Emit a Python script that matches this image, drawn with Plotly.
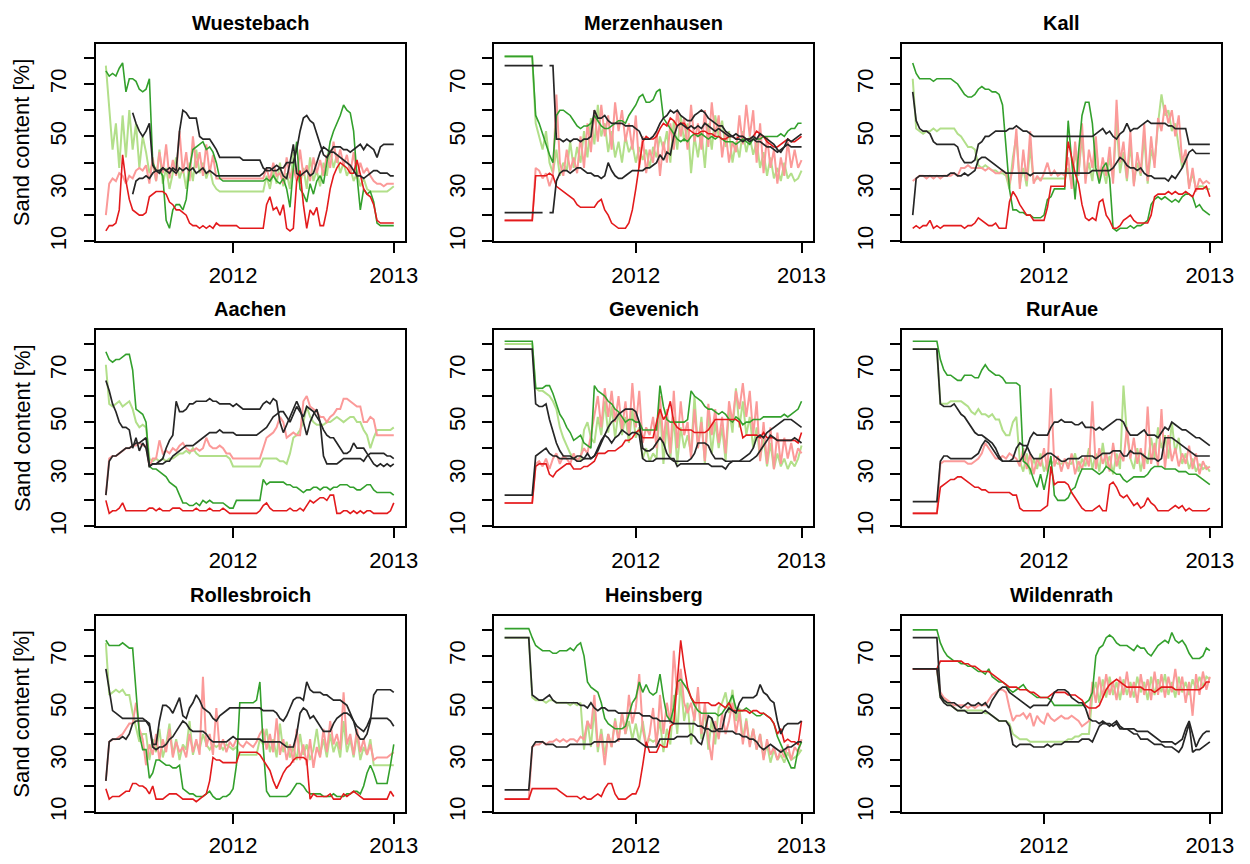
import plotly.graph_objects as go

# ---------------- time grid (decimal years, ~weekly) ----------------
T0 = 2011.2083
STEP = 1 / 48
N = 87
t_grid = [T0 + i * STEP for i in range(N)]

x_ticks = [2012, 2013]
x_ticktext = ["2012", "2013"]
y_ticks = [10, 20, 30, 40, 50, 60, 70, 80]
y_ticktext = ["10", "", "30", "", "50", "", "70", ""]

station_names = ["Wuestebach", "Merzenhausen", "Kall", "Aachen", "Gevenich",
                 "RurAue", "Rollesbroich", "Heinsberg", "Wildenrath"]

# ---------------- Wuestebach ----------------
wue_lg = [77, 60, 45, 55, 38, 58, 42, 60, 45, 55, 38, 50,
          44, 36, 40, 33, 45, 32, 38, 30, 36, 42, 34, 38,
          30, 40, 33, 45, 36, 40, 34, 38, 32, 30, 29, 29,
          29, 29, 29, 29, 29, 29, 29, 29, 29, 29, 29, 29,
          35, 30, 37, 32, 40, 31, 36, 30, 44, 35, 32, 38,
          30, 42, 33, 37, 31, 40, 35, 45, 38, 43, 36, 40,
          35, 38, 33, 36, 31, 34, 30, 29, 29, 29, 29, 29,
          29, 30, 31]
wue_lr = [20, 32, 34, 33, 36, 35, 32, 35, 34, 37, 38, 37,
          39, 32, 42, 33, 44, 36, 47, 34, 41, 35, 52, 36,
          44, 33, 50, 38, 44, 35, 47, 36, 43, 34, 34, 34,
          34, 34, 34, 34, 34, 34, 34, 34, 34, 34, 34, 34,
          38, 33, 40, 35, 36, 32, 42, 34, 38, 33, 45, 35,
          39, 33, 42, 36, 41, 35, 43, 38, 48, 40, 45, 39,
          43, 36, 44, 34, 40, 36, 38, 35, 33, 32, 32, 31,
          32, 32, 32]
wue_dg = [75, 73, 74, 73, 76, 78, 67, 72, 72, 71, 68, 67,
          68, 72, 40, 37, 37, 35, 18, 15, 22, 24, 24, 22,
          26, 38, 45, 46, 47, 48, 45, 46, 44, 40, 34, 33,
          33, 33, 33, 33, 33, 33, 33, 33, 33, 33, 33, 33,
          34, 33, 35, 33, 32, 34, 30, 23, 38, 48, 30, 28,
          25, 32, 28, 33, 35, 32, 40, 48, 52, 55, 58, 62,
          60, 59, 52, 35, 22, 30, 28, 29, 25, 17, 16, 16,
          16, 16, 16]
wue_dr = [14, 16, 16, 17, 22, 43, 33, 26, 22, 21, 20, 20,
          21, 27, 28, 29, 29, 29, 28, 25, 24, 22, 22, 21,
          20, 17, 16, 16, 15, 16, 15, 16, 15, 17, 16, 16,
          16, 16, 16, 16, 15, 15, 15, 15, 15, 15, 15, 15,
          24, 27, 22, 23, 20, 24, 15, 14, 15, 33, 37, 24,
          15, 22, 20, 23, 16, 16, 22, 30, 35, 38, 40, 39,
          38, 36, 36, 41, 36, 30, 28, 27, 24, 18, 17, 17,
          17, 17, 17]
wue_k1 = [None, None, None, None, None, None, None, None, 59, 55, 52, 50,
          52, 55, 39, 37, 37, 38, 37, 36, 38, 37, 52, 60,
          59, 57, 57, 57, 50, 49, 49, 49, 47, 45, 42, 42,
          42, 42, 42, 42, 42, 41, 41, 41, 41, 41, 41, 38,
          37, 37, 38, 39, 38, 38, 40, 40, 40, 45, 52, 57,
          58, 56, 55, 51, 47, 43, 42, 44, 46, 46, 46, 45,
          45, 44, 45, 46, 47, 45, 47, 46, 45, 42, 46, 47,
          47, 47, 47]
wue_k2 = [None, None, None, None, None, None, None, None, 28, 33, 34, 34,
          35, 34, 36, 37, 36, 38, 37, 38, 37, 36, 38, 37,
          38, 37, 38, 36, 37, 38, 36, 37, 36, 35, 35, 35,
          35, 35, 35, 35, 35, 35, 35, 35, 35, 35, 35, 36,
          38, 38, 37, 37, 38, 35, 34, 40, 47, 36, 35, 36,
          37, 35, 36, 40, 44, 46, 45, 44, 44, 43, 42, 41,
          40, 39, 37, 35, 35, 34, 35, 36, 37, 37, 36, 36,
          36, 35, 35]

# ---------------- Merzenhausen ----------------
mer_lg = [80.5, 80.5, 80.5, 80.5, 80.5, 80.5, 80.5, 80.5, 80.5, 55, 50, 45,
          52, 40, 36, 45, 35, 40, 37, 48, 38, 46, 40, 52,
          42, 57, 47, 62, 50, 55, 44, 52, 42, 48, 40, 50,
          44, 47, 40, 46, 41, 45, 38, 46, 42, 50, 45, 52,
          40, 56, 45, 58, 48, 55, 36, 50, 42, 52, 38, 55,
          45, 58, 50, 56, 46, 52, 40, 48, 42, 52, 44, 50,
          43, 48, 38, 44, 35, 42, 34, 38, 33, 40, 34, 36,
          33, 34, 37]
mer_lr = [18, 18, 18, 18, 18, 18, 18, 18, 18, 38, 37, 34,
          36, 31, 35, 66, 40, 35, 45, 37, 42, 36, 50, 38,
          55, 44, 60, 48, 62, 50, 58, 45, 63, 52, 60, 48,
          55, 45, 58, 38, 50, 36, 45, 40, 52, 35, 48, 40,
          55, 45, 60, 50, 57, 45, 62, 48, 55, 45, 60, 46,
          63, 50, 58, 42, 52, 40, 48, 44, 58, 47, 62, 50,
          60, 40, 55, 36, 50, 38, 45, 32, 42, 35, 48, 38,
          45, 38, 41]
mer_dg = [80.5, 80.5, 80.5, 80.5, 80.5, 80.5, 80.5, 80.5, 80.5, 58, 55, 51,
          47, 43, 40, 58, 60, 60, 59, 58, 56, 54, 53, 54,
          54, 55, 58, 56, 54, 53, 53, 54, 55, 56, 56, 55,
          58, 60, 62, 65, 66, 63, 63, 64, 67, 68, 57, 55,
          53, 51, 49, 48, 49, 48, 50, 51, 50, 51, 50, 49,
          50, 49, 50, 49, 48, 48, 48, 47, 48, 49, 48, 47,
          49, 49, 49, 50, 50, 50, 50, 50, 51, 50, 52, 53,
          53, 55, 55]
mer_dr = [18, 18, 18, 18, 18, 18, 18, 18, 18, 35, 35, 35,
          35, 36, 35, 31, 30, 29, 28, 27, 26, 24, 23, 23,
          23, 23, 23, 25, 26, 22, 20, 17, 16, 15, 15, 15,
          17, 22, 30, 40, 48, 50, 49, 49, 50, 53, 55, 54,
          57, 56, 54, 55, 55, 53, 52, 51, 51, 52, 52, 51,
          51, 50, 50, 49, 49, 50, 50, 49, 50, 50, 49, 49,
          50, 52, 51, 50, 48, 47, 46, 46, 47, 48, 49, 48,
          48, 49, 50]
mer_k1 = [77, 77, 77, 77, 77, 77, 77, 77, 77, 77, 77, 77,
          None, 77, 77, 49, 49, 48, 49, 48, 49, 49, 48, 49,
          49, 50, 60, 57, 57, 58, 56, 55, 55, 55, 55, 54,
          54, 54, 53, 52, 49, 49, 49, 50, 52, 55, 57, 58,
          60, 59, 60, 58, 57, 56, 56, 58, 59, 60, 59, 57,
          56, 55, 54, 54, 52, 51, 50, 51, 50, 50, 49, 49,
          50, 49, 51, 50, 49, 48, 47, 45, 44, 46, 49, 48,
          49, 50, 51]
mer_k2 = [21, 21, 21, 21, 21, 21, 21, 21, 21, 21, 21, 21,
          None, 21, 21, 33, 36, 37, 37, 36, 37, 38, 38, 37,
          36, 36, 35, 35, 34, 35, 40, 37, 35, 34, 34, 35,
          36, 37, 37, 37, 37, 38, 38, 39, 40, 43, 41, 44,
          43, 50, 54, 55, 54, 53, 54, 53, 54, 53, 55, 54,
          53, 52, 53, 52, 51, 50, 50, 49, 49, 48, 49, 48,
          49, 48, 48, 47, 46, 46, 45, 44, 45, 46, 47, 46,
          46, 46, 46]

# ---------------- Kall ----------------
kal_lg = [72, 53, 52, 51, 52, 52, 53, 52, 53, 53, 53, 53,
          53, 51, 50, 48, 46, 46, 45, 39, 38, 39, 38, 37,
          37, 36, 36, 35, 30, 42, 50, 32, 38, 31, 46, 33,
          34, 34, 34, 34, 34, 34, 34, 34, 34, 38, 32, 44,
          36, 50, 34, 40, 33, 46, 35, 38, 32, 42, 34, 56,
          36, 44, 33, 47, 32, 40, 35, 50, 32, 45, 40, 55,
          66, 58, 60, 52, 55, 46, 38, 42, 31, 36, 30, 31,
          31, 30, 30]
kal_lr = [33, 34, 35, 35, 34, 35, 34, 35, 34, 35, 35, 35,
          36, 35, 38, 38, 39, 38, 38, 38, 38, 37, 38, 37,
          36, 36, 37, 36, 32, 38, 53, 30, 45, 33, 52, 32,
          35, 33, 36, 40, 35, 37, 35, 36, 35, 42, 30, 48,
          35, 55, 32, 45, 38, 50, 33, 42, 35, 46, 32, 64,
          40, 48, 34, 52, 31, 44, 36, 55, 33, 50, 38, 57,
          52, 62, 55, 60, 50, 58, 40, 45, 30, 38, 29, 34,
          32, 33, 32]
kal_dg = [78, 74, 72, 72, 72, 72, 71, 72, 72, 72, 72, 72,
          71, 70, 68, 66, 65, 65, 66, 68, 69, 68, 68, 67,
          67, 66, 62, 45, 30, 22, 22, 21, 21, 20, 20, 19,
          19, 19, 20, 26, 27, 30, 30, 30, 30, 56, 40, 26,
          44, 58, 63, 63, 55, 38, 32, 38, 40, 34, 15, 14,
          15, 15, 15, 16, 15, 16, 16, 17, 18, 24, 26, 27,
          26, 27, 26, 25, 26, 25, 27, 28, 28, 27, 23, 24,
          22, 21, 20]
kal_dr = [15, 16, 15, 16, 16, 18, 15, 16, 15, 16, 16, 16,
          16, 16, 16, 15, 16, 16, 17, 19, 18, 17, 16, 16,
          17, 15, 15, 15, 25, 29, 27, 24, 22, 20, 20, 18,
          18, 18, 18, 23, 31, 31, 31, 31, 31, 48, 42, 36,
          32, 24, 19, 18, 19, 18, 25, 26, 20, 18, 15, 15,
          16, 18, 19, 20, 18, 17, 17, 17, 17, 20, 27, 28,
          28, 28, 29, 28, 29, 28, 28, 29, 28, 27, 30, 30,
          30, 31, 27]
kal_k1 = [67, 56, 53, 52, 52, 51, 48, 47, 47, 47, 47, 47,
          47, 46, 42, 40, 40, 40, 41, 47, 48, 50, 50, 51,
          52, 52, 52, 52, 53, 53, 54, 53, 52, 52, 51, 50,
          50, 50, 50, 50, 50, 50, 50, 50, 50, 50, 50, 50,
          50, 50, 50, 50, 50, 51, 52, 53, 51, 52, 50, 49,
          51, 52, 55, 52, 53, 53, 54, 55, 56, 55, 55, 55,
          55, 55, 54, 54, 53, 53, 53, 53, 47, 47, 47, 47,
          47, 47, 47]
kal_k2 = [20, 34, 35, 35, 35, 35, 35, 35, 35, 35, 35, 36,
          36, 35, 35, 36, 35, 36, 37, 41, 42, 42, 41, 40,
          39, 38, 37, 36, 36, 36, 36, 36, 36, 36, 35, 36,
          36, 36, 36, 36, 36, 36, 36, 36, 36, 36, 36, 36,
          36, 36, 36, 36, 37, 37, 37, 37, 37, 37, 38, 40,
          42, 41, 39, 38, 38, 37, 38, 36, 35, 35, 34, 34,
          34, 34, 33, 35, 34, 36, 38, 41, 44, 45, 43.5, 43.5,
          43.5, 43.5, 43.5]

# ---------------- Aachen ----------------
aac_lg = [72, 57, 56, 57, 58, 56, 57, 58, 55, 50, 48, 49,
          48, 36, 35, 36, 35, 36, 35, 36, 36, 37, 38, 38,
          39, 38, 40, 38, 37, 37, 37, 37, 37, 37, 37, 37,
          37, 36, 33, 33, 33, 33, 33, 33, 33, 33, 33, 36,
          36, 36, 36, 36, 35, 35, 34, 38, 44, 45, 47, 50,
          56, 52, 50, 49, 49, 49, 50, 50, 51, 52, 51, 50,
          51, 52, 52, 50, 50, 47, 45, 40, 44, 47, 47, 47,
          47, 47, 48]
aac_lr = [22, 36, 37, 37, 38, 39, 40, 40, 41, 41, 42, 41,
          41, 33, 36, 36, 43, 38, 39, 38, 40, 39, 41, 42,
          40, 39, 39, 40, 39, 40, 44, 41, 40, 40, 41, 40,
          38, 38, 36, 36, 36, 36, 36, 36, 36, 36, 36, 40,
          44, 45, 46, 48, 52, 50, 44, 45, 46, 45, 45, 58,
          60, 56, 55, 54, 52, 52, 50, 52, 53, 55, 55, 59,
          59, 58, 57, 56, 56, 50, 50, 52, 51, 45, 45, 45,
          45, 45, 45]
aac_dg = [77, 74, 73, 74, 74, 75, 76, 76, 70, 55, 54, 53,
          50, 33, 32, 32, 31, 30, 29, 27, 26, 25, 22, 19,
          19, 18, 18, 19, 18, 20, 19, 20, 19, 19, 19, 19,
          18, 17, 17, 20, 20, 20, 20, 20, 20, 20, 20, 28,
          26, 27, 27, 27, 27, 27, 26, 26, 25, 25, 24, 23,
          24, 24, 25, 25, 24, 25, 25, 24, 25, 25, 26, 26,
          26, 25, 25, 24, 24, 25, 26, 26, 24, 23, 23, 23,
          23, 23, 22]
aac_dr = [20, 15, 16, 16, 17, 19, 16, 16, 16, 16, 16, 16,
          16, 17, 17, 16, 17, 16, 16, 16, 17, 17, 17, 16,
          16, 16, 16, 17, 16, 16, 16, 17, 16, 16, 16, 17,
          16, 15, 15, 15, 15, 15, 15, 15, 15, 15, 16, 18,
          19, 17, 16, 16, 16, 16, 16, 17, 16, 16, 17, 16,
          18, 20, 19, 20, 21, 21, 20, 22, 22, 15, 15, 16,
          16, 15, 16, 15, 16, 15, 16, 16, 15, 15, 15, 15,
          15, 16, 19]
aac_k1 = [66, 62, 57, 54, 50, 48, 48, 47, 40, 44, 39, 42,
          40, 33, 34, 34, 35, 36, 40, 43, 45, 58, 54, 54,
          55, 57, 57, 58, 58, 58, 58, 59, 58, 58, 57, 57,
          57, 57, 56, 57, 56, 55, 55, 55, 55, 55, 55, 57,
          58, 57, 59, 58, 50, 46, 49, 52, 55, 58, 55, 50,
          45, 50, 53, 55, 50, 37, 34, 34, 34, 34, 35, 36,
          36, 36, 36, 36, 36, 35, 37, 38, 38, 38, 38, 38,
          37, 37, 36]
aac_k2 = [22, 35, 37, 37, 38, 39, 40, 40, 41, 42, 42, 43,
          44, 33, 34, 34, 34, 34, 35, 35, 37, 38, 39, 40,
          41, 41, 41, 42, 43, 44, 45, 46, 46, 46, 47, 46,
          46, 46, 46, 45, 45, 45, 45, 45, 45, 45, 46, 47,
          48, 50, 52, 53, 54, 54, 52, 50, 53, 56, 54, 52,
          56, 55, 54, 52, 50, 47, 45, 44, 44, 42, 40, 38,
          38, 39, 42, 40, 40, 40, 38, 36, 34, 33, 34, 33,
          34, 33, 34]

# ---------------- Gevenich ----------------
gev_lg = [80, 80, 80, 80, 80, 80, 80, 80, 80, 63, 62, 62,
          61, 60, 58, 55, 48, 44, 41, 38, 36, 36, 35, 47,
          50, 44, 42, 52, 45, 58, 46, 56, 44, 54, 45, 52,
          42, 55, 44, 48, 36, 40, 35, 38, 36, 56, 34, 50,
          36, 52, 34, 48, 40, 45, 38, 60, 40, 52, 34, 54,
          38, 50, 40, 48, 35, 55, 46, 63, 48, 58, 45, 52,
          40, 48, 36, 44, 33, 42, 32, 38, 33, 36, 32, 35,
          33, 36, 41]
gev_lr = [19, 19, 19, 19, 19, 19, 19, 19, 19, 34, 35, 33,
          36, 32, 36, 38, 34, 37, 36, 34, 38, 35, 37, 40,
          38, 45, 52, 60, 48, 63, 52, 62, 50, 60, 47, 58,
          45, 65, 48, 62, 42, 48, 45, 52, 40, 60, 42, 55,
          38, 62, 40, 58, 45, 50, 36, 55, 40, 50, 35, 57,
          45, 55, 42, 52, 38, 58, 50, 62, 55, 65, 52, 62,
          45, 58, 35, 50, 34, 48, 32, 46, 34, 44, 36, 42,
          35, 40, 38]
gev_dg = [81, 81, 81, 81, 81, 81, 81, 81, 81, 63, 63, 63,
          64, 64, 61, 57, 53, 51, 48, 46, 43, 44, 45, 42,
          41, 40, 64, 62, 61, 60, 58, 57, 55, 54, 52, 50,
          51, 51, 50, 50, 47, 47, 47, 47, 47, 64, 56, 51,
          50, 50, 50, 50, 50, 51, 62, 60, 59, 58, 56, 55,
          55, 54, 53, 54, 53, 51, 50, 52, 51, 49, 50, 50,
          51, 51, 51, 52, 52, 52, 52, 52, 52, 53, 52, 53,
          54, 55, 58]
gev_dr = [19, 19, 19, 19, 19, 19, 19, 19, 19, 33, 34, 34,
          34, 30, 29, 31, 32, 33, 34, 34, 32, 32, 32, 33,
          33, 34, 35, 38, 38, 38, 39, 39, 39, 40, 41, 43,
          43, 44, 46, 47, 44, 44, 44, 44, 50, 55, 51, 53,
          58, 50, 48, 47, 47, 47, 47, 46, 46, 46, 46, 47,
          49, 51, 51, 51, 51, 51, 51, 51, 50, 44, 45, 45,
          45, 45, 44, 46, 44, 44, 44, 43, 43, 43, 43, 43,
          43, 42, 46]
gev_k1 = [78, 78, 78, 78, 78, 78, 78, 78, 78, 57, 56, 56,
          57, 51, 46, 42, 39, 37, 37, 37, 36, 37, 37, 36,
          38, 36, 37, 40, 43, 45, 48, 50, 51, 53, 54, 55,
          55, 55, 54, 50, 40, 39, 39, 40, 42, 44, 42, 38,
          36, 35, 35, 35, 35, 35, 36, 38, 42, 42, 42, 41,
          38, 36, 36, 36, 35, 35, 35, 35, 35, 36, 37, 38,
          40, 44, 45, 44, 46, 47, 48, 49, 50, 51, 51, 51,
          50, 49, 48]
gev_k2 = [22, 22, 22, 22, 22, 22, 22, 22, 22, 37, 38, 39,
          40, 38, 37, 37, 36, 36, 36, 36, 36, 35, 35, 36,
          36, 36, 37, 39, 42, 45, 44, 42, 44, 45, 47, 46,
          45, 46, 46, 45, 36, 35, 35, 35, 36, 36, 36, 36,
          36, 36, 33, 34, 34, 34, 34, 34, 34, 34, 34, 34,
          33, 33, 33, 33, 32, 34, 35, 35, 35, 35, 35, 35,
          36, 37, 39, 41, 43, 45, 44, 43, 43, 43, 43, 43,
          44, 43, 42]

# ---------------- RurAue ----------------
rur_lg = [78, 78, 78, 78, 78, 78, 78, 78, 57, 57, 57, 58,
          58, 58, 58, 57, 56, 54, 53, 55, 53, 53, 52, 53,
          51, 51, 47, 45, 45, 50, 52, 35, 31, 38, 30, 36,
          32, 38, 31, 35, 34, 35, 34, 34, 35, 34, 34, 38,
          31, 36, 33, 40, 32, 38, 31, 42, 33, 37, 30, 38,
          32, 64, 45, 36, 32, 40, 31, 38, 34, 44, 36, 48,
          40, 45, 36, 50, 38, 44, 34, 38, 32, 36, 31, 34,
          32, 33, 31]
rur_lr = [15, 15, 15, 15, 15, 15, 15, 15, 34, 35, 35, 35,
          35, 35, 35, 35, 34, 34, 35, 36, 38, 42, 40, 38,
          36, 36, 37, 36, 38, 37, 36, 33, 40, 32, 38, 30,
          36, 33, 40, 31, 63, 33, 37, 31, 36, 32, 38, 30,
          35, 32, 37, 33, 58, 32, 40, 34, 38, 31, 42, 33,
          38, 35, 48, 36, 44, 34, 40, 32, 56, 34, 42, 33,
          55, 32, 45, 35, 40, 33, 38, 34, 41, 32, 38, 30,
          35, 32, 33]
rur_dg = [81, 81, 81, 81, 81, 81, 81, 81, 74, 70, 68, 68,
          67, 66, 66, 68, 68, 68, 67, 67, 70, 72, 70, 69,
          68, 68, 67, 65, 65, 65, 65, 64, 35, 34, 32, 28,
          25, 30, 24, 30, 37, 22, 20, 20, 20, 21, 24, 25,
          29, 32, 32, 32, 32, 31, 30, 31, 33, 32, 31, 30,
          30, 28, 27, 28, 29, 29, 29, 29, 30, 32, 33, 33,
          33, 32, 32, 32, 32, 31, 31, 31, 30, 30, 30, 29,
          28, 27, 26]
rur_dr = [15, 15, 15, 15, 15, 15, 15, 15, 25, 26, 27, 28,
          28, 29, 29, 28, 27, 26, 25, 25, 24, 24, 23, 23,
          23, 23, 23, 23, 23, 22, 22, 17, 16, 16, 16, 16,
          16, 16, 17, 18, 33, 26, 27, 27, 27, 26, 23, 21,
          19, 17, 16, 16, 16, 17, 18, 16, 16, 26, 27, 25,
          22, 21, 22, 20, 18, 19, 17, 18, 21, 19, 18, 16,
          16, 16, 16, 17, 18, 17, 18, 16, 17, 16, 16, 16,
          16, 16, 17]
rur_k1 = [78, 78, 78, 78, 78, 78, 78, 78, 57, 56, 56, 56,
          57, 55, 53, 52, 50, 48, 46, 45, 45, 44, 43, 42,
          40, 37, 35, 35, 35, 35, 35, 35, 37, 40, 44, 46,
          45, 45, 45, 45, 48, 50, 50, 51, 50, 50, 50, 49,
          49, 50, 48, 48, 48, 47, 48, 47, 48, 49, 50, 51,
          51, 50, 47, 45, 45, 45, 46, 47, 45, 45, 45, 44,
          46, 48, 47, 50, 49, 48, 47, 47, 46, 45, 44, 44,
          43, 42, 41]
rur_k2 = [19.5, 19.5, 19.5, 19.5, 19.5, 19.5, 19.5, 19.5, 35, 37, 37, 36,
          36, 36, 36, 36, 36, 36, 37, 38, 41, 43, 42, 40,
          38, 36, 35, 35, 35, 36, 40, 42, 41, 41, 38, 36,
          36, 36, 37, 38, 38, 37, 36, 35, 35, 36, 36, 36,
          36, 37, 37, 37, 37, 36, 37, 38, 38, 38, 39, 39,
          39, 37, 37, 39, 38, 38, 38, 37, 36, 36, 36, 35,
          36, 44, 44, 44, 43, 42, 41, 40, 39, 38, 37, 37,
          37, 37, 37]

# ---------------- Rollesbroich ----------------
rol_lg = [75, 55, 56, 57, 56, 57, 55, 55, 48, 42, 37, 40,
          40, 30, 38, 33, 42, 31, 36, 44, 32, 38, 30, 36,
          34, 45, 32, 37, 34, 40, 36, 34, 36, 35, 36, 34,
          36, 35, 34, 35, 32, 32, 32, 32, 32, 32, 38, 36,
          42, 33, 38, 31, 44, 33, 37, 31, 35, 30, 40, 32,
          36, 30, 34, 42, 32, 38, 31, 40, 33, 37, 31, 45,
          33, 38, 31, 40, 30, 35, 32, 38, 28, 28, 28, 28,
          28, 28, 28]
rol_lr = [22, 37, 38, 38, 39, 40, 42, 44, 44, 52, 42, 38,
          28, 36, 32, 40, 30, 38, 33, 42, 31, 37, 33, 35,
          31, 40, 33, 38, 32, 62, 35, 40, 32, 50, 34, 38,
          33, 37, 35, 38, 36, 35, 37, 36, 35, 37, 40, 42,
          34, 40, 33, 46, 32, 38, 30, 36, 29, 42, 30, 36,
          28, 38, 27, 35, 31, 42, 33, 45, 36, 40, 34, 56,
          36, 40, 32, 42, 33, 38, 32, 36, 30, 31, 31, 31,
          31, 32, 33]
rol_dg = [76, 74, 74, 74, 74, 75, 74, 73, 73, 55, 40, 34,
          34, 23, 25, 30, 30, 29, 28, 28, 27, 27, 28, 19,
          18, 17, 17, 16, 16, 16, 17, 18, 16, 15, 15, 16,
          16, 17, 19, 28, 52, 52, 52, 52, 52, 53, 60, 35,
          18, 16, 16, 16, 16, 16, 16, 17, 19, 21, 21, 20,
          18, 17, 17, 17, 17, 16, 16, 16, 17, 16, 16, 16,
          17, 17, 18, 18, 17, 20, 25, 28, 25, 21, 21, 21,
          21, 28, 36]
rol_dr = [19, 15, 16, 16, 16, 17, 18, 18, 21, 21, 20, 20,
          19, 17, 20, 15, 15, 15, 16, 17, 17, 17, 16, 15,
          15, 15, 15, 14, 15, 16, 17, 22, 31, 30, 30, 29,
          29, 29, 29, 29, 33, 33, 33, 33, 33, 33, 32, 30,
          28, 26, 22, 19, 22, 25, 27, 28, 30, 31, 31, 31,
          30, 15, 17, 16, 16, 16, 16, 17, 15, 15, 15, 17,
          16, 17, 18, 17, 16, 15, 15, 15, 15, 15, 15, 15,
          15, 18, 16]
rol_k1 = [65, 57, 49, 48, 47, 46, 46, 46, 46, 46, 46, 46,
          45, 44, 36, 36, 45, 51, 51, 50, 48, 51, 54, 47,
          46, 50, 52, 55, 53, 50, 49, 48, 46, 45, 47, 48,
          49, 50, 50, 50, 50, 50, 50, 50, 50, 50, 50, 49,
          49, 49, 49, 48, 46, 45, 47, 50, 53, 54, 54, 53,
          60, 57, 56, 56, 56, 55, 55, 54, 53, 53, 53, 52,
          51, 48, 45, 40, 38, 38, 40, 45, 55, 57, 57, 57,
          57, 57, 56]
rol_k2 = [22, 37, 38, 38, 38, 39, 38, 40, 44, 45, 45, 45,
          45, 43, 35, 34, 35, 35, 36, 38, 39, 41, 43, 45,
          44, 42, 41, 41, 41, 41, 40, 38, 37, 37, 37, 37,
          37, 38, 39, 38, 38, 38, 38, 38, 38, 38, 38, 37,
          37, 37, 37, 37, 37, 36, 35, 35, 35, 40, 48, 50,
          49, 46, 47, 45, 43, 41, 41, 41, 44, 46, 47, 48,
          48, 47, 45, 43, 42, 41, 43, 46, 46, 46, 46, 46,
          46, 45, 43]

# ---------------- Heinsberg ----------------
hei_lg = [77, 77, 77, 77, 77, 77, 77, 77, 54, 53, 53, 53,
          52, 53, 53, 52, 52, 52, 52, 51, 52, 51, 52, 34,
          45, 35, 50, 33, 42, 32, 40, 35, 46, 38, 48, 40,
          45, 38, 44, 37, 45, 36, 38, 37, 38, 45, 33, 42,
          36, 55, 40, 60, 45, 52, 36, 48, 55, 38, 50, 34,
          46, 36, 50, 52, 56, 48, 57, 45, 50, 38, 46, 36,
          42, 34, 40, 31, 36, 29, 34, 30, 32, 29, 33, 30,
          31, 32, 34]
hei_lr = [15, 15, 15, 15, 15, 15, 15, 15, 35, 36, 36, 37,
          36, 37, 37, 38, 37, 38, 37, 38, 38, 37, 39, 38,
          45, 42, 55, 35, 40, 28, 40, 35, 45, 37, 48, 40,
          55, 44, 50, 63, 42, 35, 40, 50, 35, 55, 40, 52,
          44, 72, 55, 65, 52, 48, 52, 45, 58, 40, 52, 38,
          30, 45, 38, 48, 40, 45, 52, 40, 48, 36, 45, 35,
          42, 34, 40, 30, 38, 32, 35, 30, 34, 31, 36, 30,
          35, 33, 38]
hei_dg = [80.5, 80.5, 80.5, 80.5, 80.5, 80.5, 80.5, 80.5, 77, 74, 73, 72,
          72, 72, 71, 71, 72, 72, 72, 73, 72, 74, 75, 70,
          60, 58, 57, 56, 52, 46, 44, 43, 42, 42, 42, 43,
          48, 52, 54, 60, 56, 59, 56, 55, 56, 63, 54, 47,
          45, 50, 60, 61, 59, 57, 54, 51, 49, 48, 48, 48,
          48, 48, 47, 48, 50, 52, 55, 50, 49, 49, 50, 49,
          48, 47, 47, 48, 47, 46, 44, 39, 36, 33, 30, 27,
          27, 34, 37]
hei_dr = [15, 15, 15, 15, 15, 15, 15, 15, 19, 19, 19, 19,
          19, 19, 19, 19, 18, 17, 16, 16, 16, 16, 15, 16,
          15, 15, 16, 17, 16, 19, 21, 21, 17, 15, 15, 15,
          16, 17, 17, 20, 28, 37, 33, 33, 33, 36, 35, 35,
          43, 44, 60, 76, 66, 58, 54, 52, 52, 52, 52, 52,
          51, 51, 52, 51, 50, 52, 49, 49, 49, 49, 49, 48,
          49, 49, 48, 48, 47, 46, 44, 40, 42, 37, 38, 37,
          37, 36, 45]
hei_k1 = [77, 77, 77, 77, 77, 77, 77, 77, 55, 54, 53, 53,
          54, 55, 53, 52, 52, 52, 52, 52, 52, 52, 51, 51,
          50, 52, 50, 49, 50, 50, 49, 49, 49, 48, 48, 48,
          48, 48, 48, 48, 47, 47, 47, 46, 46, 45, 45, 45,
          45, 44, 44, 44, 44, 44, 44, 44, 43, 43, 42, 42,
          41, 41, 42, 42, 48, 50, 49, 48, 52, 54, 54, 54,
          54, 55, 59, 56, 55, 53, 52, 45, 40, 43, 44, 44,
          44, 44, 45]
hei_k2 = [18.5, 18.5, 18.5, 18.5, 18.5, 18.5, 18.5, 18.5, 35, 37, 37, 37,
          36, 36, 36, 35, 35, 35, 35, 36, 36, 36, 36, 36,
          36, 36, 37, 37, 37, 37, 37, 37, 37, 38, 38, 38,
          38, 38, 38, 37, 36, 35, 35, 35, 35, 38, 38, 38,
          38, 38, 39, 39, 39, 39, 40, 39, 37, 36, 41, 47,
          46, 42, 41, 41, 41, 41, 41, 40, 40, 39, 39, 38,
          38, 37, 35, 34, 35, 36, 35, 34, 33, 34, 35, 35,
          36, 37, 37]

# ---------------- Wildenrath ----------------
wil_lg = [65, 65, 65, 65, 65, 65, 65, 65, 54, 53, 52, 51,
          50, 49, 49, 49, 49, 49, 49, 49, 49, 48, 48, 47,
          46, 45, 45, 45, 44, 40, 39, 38, 38, 38, 37, 37,
          37, 37, 37, 37, 37, 37, 37, 37, 37, 38, 38, 39,
          39, 40, 40, 40, 55, 60, 52, 61, 54, 62, 55, 60,
          53, 61, 55, 60, 54, 62, 56, 60, 53, 62, 55, 61,
          56, 63, 55, 60, 54, 62, 56, 60, 55, 61, 57, 62,
          58, 62, 61]
wil_lr = [65, 65, 65, 65, 65, 65, 65, 65, 56, 54, 53, 52,
          51, 51, 51, 51, 50, 51, 50, 51, 51, 51, 53, 55,
          56, 57, 57, 56, 50, 45, 47, 47, 48, 46, 48, 43,
          47, 45, 44, 48, 46, 45, 46, 47, 46, 46, 47, 46,
          45, 43, 44, 45, 60, 52, 62, 54, 63, 55, 60, 53,
          62, 55, 64, 54, 60, 52, 63, 55, 61, 53, 64, 55,
          63, 54, 62, 56, 65, 55, 62, 52, 60, 47, 63, 55,
          64, 57, 62]
wil_dg = [80, 80, 80, 80, 80, 80, 80, 80, 75, 72, 70, 69,
          68, 68, 67, 67, 66, 66, 65, 64, 64, 63, 65, 62,
          61, 60, 60, 59, 57, 56, 57, 58, 59, 57, 56, 55,
          54, 54, 54, 54, 53, 51, 51, 51, 51, 51, 51, 51,
          51, 51, 52, 53, 56, 70, 73, 74, 77, 78, 77, 75,
          74, 74, 74, 73, 72, 74, 73, 73, 71, 70, 72, 74,
          75, 76, 75, 79, 76, 75, 76, 74, 71, 69, 69, 69,
          70, 73, 72]
wil_dr = [65, 65, 65, 65, 65, 65, 65, 65, 68, 68, 68, 68,
          68, 68, 68, 67, 67, 66, 66, 65, 64, 64, 64, 63,
          62, 61, 60, 59, 58, 58, 58, 57, 57, 57, 56, 56,
          55, 54, 54, 54, 55, 56, 56, 56, 56, 55, 55, 55,
          54, 53, 51, 50, 50, 50, 51, 54, 57, 59, 60, 61,
          60, 59, 58, 58, 58, 58, 58, 57, 57, 57, 56, 57,
          58, 58, 58, 58, 57, 57, 57, 57, 57, 57, 57, 57,
          58, 60, 60]
wil_k1 = [77, 77, 77, 77, 77, 77, 77, 77, 55, 53, 52, 52,
          52, 51, 50, 51, 52, 51, 51, 52, 51, 52, 50, 53,
          55, 57, 58, 58, 56, 55, 54, 53, 52, 51, 50, 51,
          51, 51, 51, 51, 53, 56, 57, 57, 57, 56, 54, 53,
          52, 52, 50, 46, 45, 45, 44, 45, 44, 43, 44, 45,
          43, 42, 42, 42, 42, 41, 41, 41, 41, 40, 39, 38,
          37, 37, 37, 37, 36, 37, 38, 42, 45, 40, 35, 38,
          40, 41, 41]
wil_k2 = [65, 65, 65, 65, 65, 65, 65, 65, 54, 52, 51, 51,
          50, 49, 49, 49, 48, 48, 48, 48, 48, 49, 48, 47,
          46, 45, 45, 45, 43, 36, 35, 36, 36, 36, 36, 35,
          35, 35, 35, 36, 35, 36, 36, 36, 37, 37, 37, 37,
          37, 38, 38, 38, 37, 40, 43, 44, 44, 44, 43, 44,
          42, 42, 42, 41, 40, 40, 38, 38, 38, 37, 36, 36,
          36, 35, 35, 35, 34, 33, 35, 40, 44, 33, 34, 34,
          35, 36, 37]

panel_series = [
    (wue_lg, wue_lr, wue_dg, wue_dr, wue_k1, wue_k2),
    (mer_lg, mer_lr, mer_dg, mer_dr, mer_k1, mer_k2),
    (kal_lg, kal_lr, kal_dg, kal_dr, kal_k1, kal_k2),
    (aac_lg, aac_lr, aac_dg, aac_dr, aac_k1, aac_k2),
    (gev_lg, gev_lr, gev_dg, gev_dr, gev_k1, gev_k2),
    (rur_lg, rur_lr, rur_dg, rur_dr, rur_k1, rur_k2),
    (rol_lg, rol_lr, rol_dg, rol_dr, rol_k1, rol_k2),
    (hei_lg, hei_lr, hei_dg, hei_dr, hei_k1, hei_k2),
    (wil_lg, wil_lr, wil_dg, wil_dr, wil_k1, wil_k2),
]

# ---------------- styling ----------------
series_colors = ["#b2df8a", "#fb9a99", "#33a02c", "#e31a1c", "#262626", "#262626"]
series_widths = [2.0, 2.0, 1.6, 1.6, 1.7, 1.7]

W, H = 1250, 864
col_px = [(96.7, 409.3), (499.3, 821.7), (911.7, 1234.3)]
row_px = [(44.0, 244.0), (333.3, 532.0), (622.3, 820.7)]
title_y_px = [23.5, 312.5, 600.8]
FONT = "Liberation Sans, Arial, Helvetica, sans-serif"

fig = go.Figure()
annotations = []
layout_axes = {}

for k, (name, series) in enumerate(zip(station_names, panel_series)):
    r, c = divmod(k, 3)
    ax = "" if k == 0 else str(k + 1)
    for vals, col, lw in zip(series, series_colors, series_widths):
        assert len(vals) == N, (name, len(vals))
        fig.add_trace(go.Scatter(
            x=t_grid, y=vals, mode="lines",
            line=dict(color=col, width=lw),
            xaxis="x" + ax, yaxis="y" + ax,
            showlegend=False, hoverinfo="skip", connectgaps=False))
    x0, x1 = col_px[c]
    y0, y1 = row_px[r]
    layout_axes["xaxis" + ax] = dict(
        domain=[x0 / W, x1 / W], anchor="y" + ax,
        range=[2011.145, 2013.07],
        tickmode="array", tickvals=x_ticks, ticktext=x_ticktext,
        ticks="outside", ticklen=10, tickwidth=1.5, tickcolor="black",
        showline=True, linecolor="black", linewidth=1.5, mirror=True,
        showgrid=False, zeroline=False,
        tickfont=dict(family=FONT, size=22, color="black"),
        ticklabelstandoff=3,
    )
    layout_axes["yaxis" + ax] = dict(
        domain=[1 - y1 / H, 1 - y0 / H], anchor="x" + ax,
        range=[9.98, 85.4],
        tickmode="array", tickvals=y_ticks, ticktext=y_ticktext,
        tickangle=-90,
        ticks="outside", ticklen=10, tickwidth=1.5, tickcolor="black",
        showline=True, linecolor="black", linewidth=1.5, mirror=True,
        showgrid=False, zeroline=False,
        tickfont=dict(family=FONT, size=22, color="black"),
        ticklabelstandoff=9,
    )
    annotations.append(dict(
        text="<b>" + name + "</b>", xref="paper", yref="paper",
        x=(x0 + x1) / 2 / W, y=1 - title_y_px[r] / H,
        xanchor="center", yanchor="middle", showarrow=False,
        font=dict(family=FONT, size=20, color="black")))
    if c == 0:
        annotations.append(dict(
            text="Sand content [%]", xref="paper", yref="paper",
            x=22 / W, y=1 - (y0 + y1) / 2 / H, textangle=-90,
            xanchor="center", yanchor="middle", showarrow=False,
            font=dict(family=FONT, size=22, color="black")))

fig.update_layout(
    width=W, height=H,
    margin=dict(l=0, r=0, t=0, b=0),
    paper_bgcolor="white", plot_bgcolor="white",
    annotations=annotations,
    **layout_axes,
)

fig.write_html("out.html", config={"displayModeBar": False},
               post_script="document.body.style.margin='0';")
